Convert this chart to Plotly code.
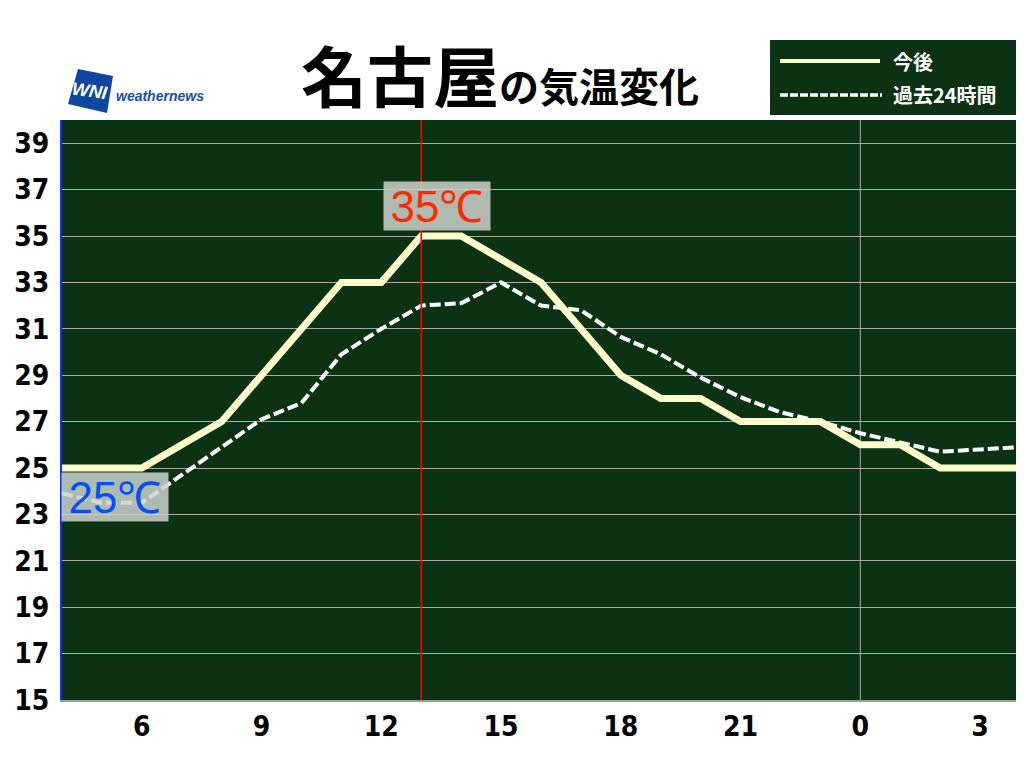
import plotly.graph_objects as go

# ---- data ----
hours = list(range(4, 29))  # 4..28 (24 = 0時)
forecast = [25, 25, 25, 26, 27, 29, 31, 33, 33, 35, 35, 34, 33, 31, 29, 28, 28, 27, 27, 27, 26, 26, 25, 25, 25]
past24 = [23.9, 23.5, 23.5, 24.7, 25.9, 27.1, 27.8, 29.9, 31.0, 32.0, 32.1, 33.0, 32.0, 31.8,
          30.65, 29.9, 28.9, 28.05, 27.4, 27.0, 26.5, 26.1, 25.7, 25.8, 25.9]
x_tickvals = [6, 9, 12, 15, 18, 21, 24, 27]
x_ticktext = ["6", "9", "12", "15", "18", "21", "0", "3"]
y_tickvals = list(range(15, 40, 2))
now_hour = 13
max_label = ("35℃", 13.4, 36.3)
min_label = ("25℃", 5.33, 23.75)

# page geometry (the page body has an 8px margin)
OFF = 8
W, H = 1024, 768
L, R, T, B = 62, 1020, 120, 700
BG = "#0b3313"
CREAM = "#ffffcc"
JP = "Noto Sans CJK JP"
NUM = "Liberation Sans Narrow, DejaVu Sans Condensed, sans-serif"


def px(xp):
    return (xp - L) / (R - L)


def py(yp):
    return (B - yp) / (B - T)


fig = go.Figure()
fig.add_trace(go.Scatter(x=hours, y=past24, mode="lines",
                         line=dict(color="white", width=4, dash="11px,4px"),
                         showlegend=False, hoverinfo="skip"))
fig.add_trace(go.Scatter(x=hours, y=forecast, mode="lines",
                         line=dict(color=CREAM, width=7), showlegend=False, hoverinfo="skip"))

shapes = []
shapes.append(dict(type="line", xref="x", yref="paper", x0=24, x1=24, y0=0, y1=1,
                   line=dict(color="#aaaaaa", width=1), layer="below"))
shapes.append(dict(type="line", xref="x", yref="paper", x0=now_hour, x1=now_hour, y0=0, y1=1,
                   line=dict(color="#ff0000", width=1.6)))
# legend box
shapes.append(dict(type="rect", xref="paper", yref="paper", x0=px(770), x1=px(1018), y0=py(115), y1=py(40),
                   fillcolor=BG, line=dict(width=0)))
shapes.append(dict(type="line", xref="paper", yref="paper", x0=px(780), x1=px(880), y0=py(61), y1=py(61),
                   line=dict(color=CREAM, width=4)))
shapes.append(dict(type="line", xref="paper", yref="paper", x0=px(780), x1=px(882), y0=py(95), y1=py(95),
                   line=dict(color="white", width=3.5, dash="8px,2px")))
# logo parallelogram
pts = [(78, 69), (113, 76), (107, 113), (68, 104)]
path = "M " + " L ".join(f"{px(a)},{py(b)}" for a, b in pts) + " Z"
shapes.append(dict(type="path", xref="paper", yref="paper", path=path,
                   fillcolor="#0f46a0", line=dict(width=0)))

lab = dict(showarrow=False, xanchor="center", yanchor="middle", bgcolor="rgba(205,212,205,0.85)",
           borderpad=1, width=104, height=46)
annotations = [
    dict(xref="paper", yref="paper", x=px(500), y=py(73), xanchor="center", yanchor="middle",
         text="<b>名古屋</b><span style='font-size:40px'><b>の気温変化</b></span>",
         showarrow=False, font=dict(family=JP, size=66, color="black")),
    dict(xref="paper", yref="paper", x=px(891), y=py(62), xanchor="left", yanchor="middle",
         text="今後", showarrow=False, font=dict(family=JP, size=20, color="white", weight="bold")),
    dict(xref="paper", yref="paper", x=px(891), y=py(95), xanchor="left", yanchor="middle",
         text="過去24時間", showarrow=False, font=dict(family=JP, size=20, color="white", weight="bold")),
    dict(xref="paper", yref="paper", x=px(90), y=py(91), xanchor="center", yanchor="middle",
         text="<b><i>WNI</i></b>", showarrow=False, textangle=8,
         font=dict(family="Liberation Sans, Arial", size=18, color="white")),
    dict(xref="paper", yref="paper", x=px(114), y=py(96), xanchor="left", yanchor="middle",
         text="<b><i>weathernews</i></b>", showarrow=False,
         font=dict(family="Liberation Sans, Arial", size=14, color="#1a4ea6")),
    dict(xref="x", yref="y", x=max_label[1], y=max_label[2], text=max_label[0],
         font=dict(family="Liberation Sans, Arial", size=44, color="#ff2a00"), **lab),
    dict(xref="x", yref="y", x=min_label[1], y=min_label[2], text=min_label[0],
         font=dict(family="Liberation Sans, Arial", size=44, color="#0050ff"), **lab),
]

fig.update_layout(
    width=W - OFF, height=H - OFF, autosize=False,
    margin=dict(l=L - OFF, r=W - R, t=T - OFF, b=H - B),
    paper_bgcolor="white", plot_bgcolor=BG,
    shapes=shapes, annotations=annotations, showlegend=False,
    xaxis=dict(range=[4, 28], tickvals=x_tickvals, ticktext=x_ticktext, showgrid=False, zeroline=False,
               showline=True, linecolor="#9a9a9a", linewidth=2, ticks="", ticklabelstandoff=0,
               tickfont=dict(family=NUM, size=28, color="black", weight="bold")),
    yaxis=dict(range=[15, 40], tickvals=y_tickvals, showgrid=True, gridcolor="#aaaaaa", gridwidth=1,
               zeroline=False, showline=True, linecolor="#1030ff", linewidth=2, ticks="",
               ticklabelstandoff=5, tickfont=dict(family=NUM, size=28, color="black", weight="bold")),
)

fig.write_html("out.html")
